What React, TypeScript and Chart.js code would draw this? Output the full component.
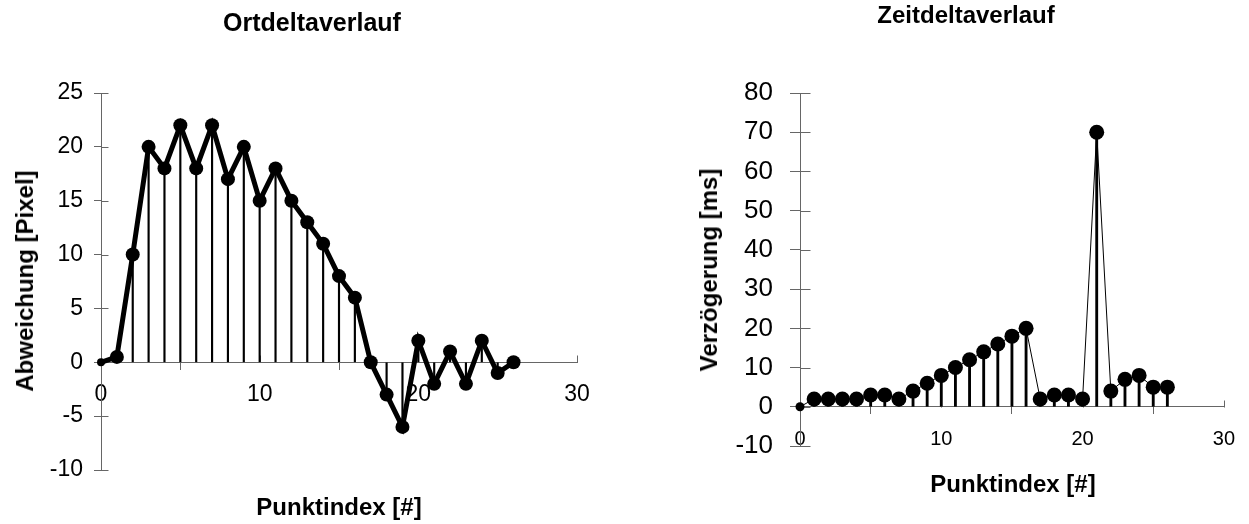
import React, { useEffect, useRef } from 'react';
import { Chart, registerables } from 'chart.js';

Chart.register(...registerables);

// ---- data ----
const pointIndex = [0, 1, 2, 3, 4, 5, 6, 7, 8, 9, 10, 11, 12, 13, 14, 15, 16, 17, 18, 19, 20, 21, 22, 23, 24, 25, 26];
const ortDeltaPixel = [0, 0.5, 10, 20, 18, 22, 18, 22, 17, 20, 15, 18, 15, 13, 11, 8, 6, 0, -3, -6, 2, -2, 1, -2, 2, -1, 0];
const zeitDeltaMs = [0, 2, 2, 2, 2, 3, 3, 2, 4, 6, 8, 10, 12, 14, 16, 18, 20, 2, 3, 3, 2, 70, 4, 7, 8, 5, 5];
const xTickValues = [0, 10, 20, 30];
const ortYTickValues = [-10, -5, 0, 5, 10, 15, 20, 25];
const zeitYTickValues = [-10, 0, 10, 20, 30, 40, 50, 60, 70, 80];

const titleLeft = 'Ortdeltaverlauf';
const titleRight = 'Zeitdeltaverlauf';
const xTitle = 'Punktindex [#]';
const yTitleLeft = 'Abweichung [Pixel]';
const yTitleRight = 'Verzögerung [ms]';

const FONT = 'Arial, "Liberation Sans", Helvetica, sans-serif';
const AXIS = '#666666';

type ChartProps = {
  values: number[];
  yTicks: number[];
  left: number;
  width: number;
  padding: { left: number; right: number; top: number; bottom: number };
  yAxisWidth: number;
  yFont: number;
  xFont: number;
  yTickLen: number;
  yTickPad: number;
  xTickLen: number;
  xTickPad: number;
  lineWidth: number;
  r: number;
  r0: number;
  dropWidth: number;
};

function DeltaChart(p: ChartProps) {
  const ref = useRef<HTMLCanvasElement | null>(null);
  useEffect(() => {
    if (!ref.current) return;
    const pts = pointIndex.map((x, i) => ({ x, y: p.values[i] }));
    const crossTicks = {
      id: 'crossTicks',
      beforeDatasetsDraw(chart: any) {
        const { ctx, scales } = chart;
        const xs = scales.x;
        const ys = scales.y;
        const ax = Math.round(ys.right) + 0.5;
        const ay = Math.round(ys.getPixelForValue(0)) + 0.5;
        ctx.save();
        ctx.strokeStyle = AXIS;
        ctx.lineWidth = 1;
        ctx.beginPath();
        ys.ticks.forEach((t: any) => {
          const py = Math.round(ys.getPixelForValue(t.value)) + 0.5;
          ctx.moveTo(ax, py);
          ctx.lineTo(ax + p.yTickLen, py);
        });
        xs.ticks.forEach((t: any) => {
          const px = Math.round(xs.getPixelForValue(t.value)) + 0.5;
          ctx.moveTo(px, ay);
          ctx.lineTo(px, ay - p.xTickLen);
        });
        ctx.stroke();
        ctx.restore();
      },
    };
    const chart = new Chart(ref.current, {
      type: 'line',
      data: {
        datasets: [
          {
            type: 'line',
            data: pts,
            borderColor: '#000',
            borderWidth: p.lineWidth,
            pointRadius: (c: any) => (c.dataIndex === 0 ? p.r0 : p.r),
            pointBackgroundColor: '#000',
            pointBorderColor: '#000',
            pointBorderWidth: 0,
            tension: 0,
            clip: false,
            order: 0,
          } as any,
          {
            type: 'bar',
            data: pts,
            backgroundColor: '#000',
            borderWidth: 0,
            barThickness: p.dropWidth,
            grouped: false,
            clip: false,
            order: 1,
          } as any,
        ],
      },
      options: {
        animation: false,
        responsive: false,
        devicePixelRatio: 1,
        events: [],
        layout: { padding: p.padding },
        plugins: {
          legend: { display: false },
          tooltip: { enabled: false },
          title: { display: false },
        },
        scales: {
          x: {
            type: 'linear',
            position: { y: 0 } as any,
            offset: false,
            min: xTickValues[0],
            max: xTickValues[xTickValues.length - 1],
            ticks: {
              stepSize: xTickValues[1] - xTickValues[0],
              font: { family: FONT, size: p.xFont },
              color: '#000',
              padding: p.xTickPad,
              maxRotation: 0,
            },
            grid: { drawOnChartArea: false, drawTicks: true, tickLength: p.xTickLen, color: AXIS, lineWidth: 1 },
            border: { display: true, color: AXIS, width: 1 },
            afterFit: (s: any) => {
              s.height = 0;
            },
          },
          y: {
            type: 'linear',
            position: 'left',
            min: p.yTicks[0],
            max: p.yTicks[p.yTicks.length - 1],
            ticks: {
              stepSize: p.yTicks[1] - p.yTicks[0],
              font: { family: FONT, size: p.yFont },
              color: '#000',
              padding: p.yTickPad,
            },
            grid: { drawOnChartArea: false, drawTicks: true, tickLength: p.yTickLen, color: AXIS, lineWidth: 1 },
            border: { display: true, color: AXIS, width: 1 },
            afterFit: (s: any) => {
              s.width = p.yAxisWidth;
            },
          },
        },
      },
      plugins: [crossTicks],
    } as any);
    return () => chart.destroy();
  }, []);
  return (
    <canvas
      ref={ref}
      width={p.width}
      height={524}
      style={{ position: 'absolute', left: p.left, top: 0, width: p.width, height: 524 }}
    />
  );
}

function Label(props: { text: string; cx: number; cy: number; size: number; rotate?: boolean }) {
  return (
    <div
      style={{
        position: 'absolute',
        left: props.cx,
        top: props.cy,
        transform: `translate(-50%, -50%)${props.rotate ? ' rotate(-90deg)' : ''}`,
        fontFamily: FONT,
        fontWeight: 'bold',
        fontSize: props.size,
        lineHeight: 1,
        whiteSpace: 'nowrap',
        color: '#000',
      }}
    >
      {props.text}
    </div>
  );
}

export default function App() {
  return (
    <div style={{ position: 'absolute', left: 0, top: 0, width: 1249, height: 524, background: '#fff', overflow: 'hidden' }}>
      <DeltaChart
        values={ortDeltaPixel}
        yTicks={ortYTickValues}
        left={0}
        width={620}
        padding={{ left: 0, right: 43, top: 93, bottom: 54 }}
        yAxisWidth={101}
        yFont={23}
        xFont={23}
        yTickLen={7}
        yTickPad={11}
        xTickLen={7}
        xTickPad={12}
        lineWidth={5}
        r={7}
        r0={4}
        dropWidth={1.5}
      />
      <DeltaChart
        values={zeitDeltaMs}
        yTicks={zeitYTickValues}
        left={620}
        width={629}
        padding={{ left: 0, right: 23, top: 93, bottom: 78 }}
        yAxisWidth={180}
        yFont={26}
        xFont={20}
        yTickLen={10}
        yTickPad={17}
        xTickLen={7}
        xTickPad={14}
        lineWidth={1}
        r={7.5}
        r0={4.5}
        dropWidth={2.2}
      />
      <Label text={titleLeft} cx={312} cy={22} size={25} />
      <Label text={titleRight} cx={966} cy={15} size={24} />
      <Label text={yTitleLeft} cx={25} cy={281} size={24} rotate />
      <Label text={yTitleRight} cx={709} cy={270} size={24} rotate />
      <Label text={xTitle} cx={339} cy={507} size={24} />
      <Label text={xTitle} cx={1013} cy={484} size={24} />
    </div>
  );
}
